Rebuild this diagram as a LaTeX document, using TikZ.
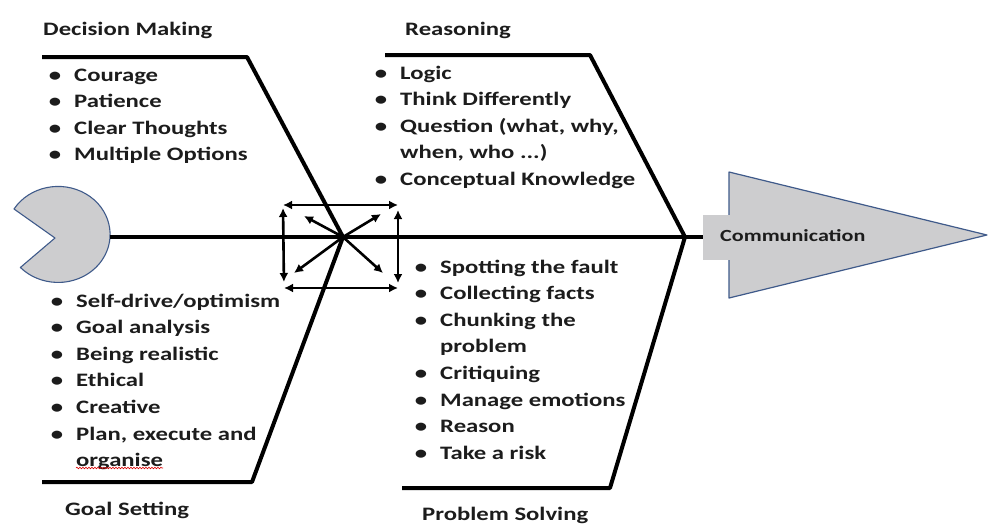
\documentclass[tikz,border=0pt]{standalone}
\usepackage{fontspec}
\setmainfont{Carlito}[FakeStretch=1.3]
\usetikzlibrary{decorations.pathmorphing,arrows.meta}
\definecolor{tinta}{HTML}{1C1C1C}
\definecolor{cinza}{HTML}{CDCDCF}
\definecolor{borda}{HTML}{3F5A8A}
\newcommand{\bull}{\llap{\textbullet\hspace{13pt}}}
\newcommand{\fonte}{\bfseries\fontsize{19}{26.6}\selectfont}

\begin{document}
\begin{tikzpicture}[x=1pt,y=-1pt,line join=round]
\tikzstyle{bone}=[line width=4pt]
\tikzstyle{dbl}=[{Latex[length=9pt,width=9pt]}-{Latex[length=9pt,width=9pt]},line width=2.6pt]
\tikzstyle{sgl}=[-{Latex[length=9pt,width=9pt]},line width=2.6pt]
\tikzstyle{title}=[anchor=base west,inner sep=0pt,font=\fonte,text=tinta]
\tikzstyle{list}=[anchor=base west,inner sep=0pt,font=\fonte,text=tinta]
\useasboundingbox (0,0) rectangle (989,525);

% tail of the fish
\filldraw[fill=cinza,draw=borda,line width=1.1pt] (14,209) arc[start angle=212,end angle=496.5,x radius=52,y radius=48] -- (55,238) -- cycle;
\coordinate (tail) at (110,237);
\coordinate (j1) at (343,237);
\coordinate (j2) at (685,237);

% head
\filldraw[fill=cinza,draw=borda,line width=1.2pt] (729,172) -- (987,235) -- (729,298) -- cycle;
\node[fill=cinza,minimum width=58pt,minimum height=45pt,inner sep=0pt,anchor=west] (commbox) at (703,237) {};
\node[anchor=base west,inner sep=0pt,font=\bfseries\fontsize{17}{20}\selectfont,text=tinta] (comm) at (720,241.7) {Communication};

% spine
\draw[bone] (tail) -- (commbox.west);

% bones
\coordinate (dmL) at (42,57);
\coordinate (dmK) at (247,57);
\coordinate (rsL) at (385,55);
\coordinate (rsK) at (590,55);
\coordinate (gsL) at (42,482);
\coordinate (gsK) at (252,482);
\coordinate (psL) at (402,488);
\coordinate (psK) at (610,488);
\draw[bone] (dmL) -- (dmK) -- (j1);
\draw[bone] (gsL) -- (gsK) -- (j1);
\draw[bone] (rsL) -- (rsK) -- (j2);
\draw[bone] (psL) -- (psK) -- (j2);

% arrows round the first joint
\coordinate (nw) at (283,205);
\coordinate (ne) at (398,205);
\coordinate (sw) at (284,288);
\coordinate (se) at (398,288);
\draw[dbl] (nw) -- (ne);
\draw[dbl] (sw) -- (se);
\draw[dbl,shorten <=3pt,shorten >=6pt] (nw) -- (sw);
\draw[dbl,shorten <=5pt,shorten >=5pt] (ne) -- (se);
\coordinate (ul) at (304,216);
\coordinate (ur) at (381,214);
\coordinate (dl) at (294,273);
\coordinate (dr) at (383,273);
\foreach \p in {ul,ur,dl,dr}
  \draw[sgl] (j1) -- (\p);

% titles
\node[title] (decision) at (43,35) {Decision Making};
\node[title] (reasoning) at (405,35.7) {Reasoning};
\node[title] (goal) at (65,515) {Goal Setting};
\node[title] (problem) at (422,520.5) {Problem Solving};

% lists
\node[list] (dmList) at (74,81) {\begin{tabular}[t]{@{}l@{}}
\bull Courage\\ \bull Patience\\ \bull Clear Thoughts\\ \bull Multiple Options
\end{tabular}};
\node[list] (rsList) at (400,79) {\begin{tabular}[t]{@{}l@{}}
\bull Logic\\ \bull Think Differently\\ \bull Question (what, why,\\ when, who ...)\\ \bull Conceptual Knowledge
\end{tabular}};
\node[list] (gsList) at (76,307) {\begin{tabular}[t]{@{}l@{}}
\bull Self-drive/optimism\\ \bull Goal analysis\\ \bull Being realistic\\ \bull Ethical\\ \bull Creative\\ \bull Plan, execute and\\ organise
\end{tabular}};
\node[list] (psList) at (440,273) {\begin{tabular}[t]{@{}l@{}}
\bull Spotting the fault\\ \bull Collecting facts\\ \bull Chunking the\\ problem\\ \bull Critiquing\\ \bull Manage emotions\\ \bull Reason\\ \bull Take a risk
\end{tabular}};

% spell-check squiggle
\draw[red!85!black,line width=0.6pt,decorate,decoration={snake,amplitude=0.8pt,segment length=3pt}] (76,468) -- (163,468);
\end{tikzpicture}
\end{document}
